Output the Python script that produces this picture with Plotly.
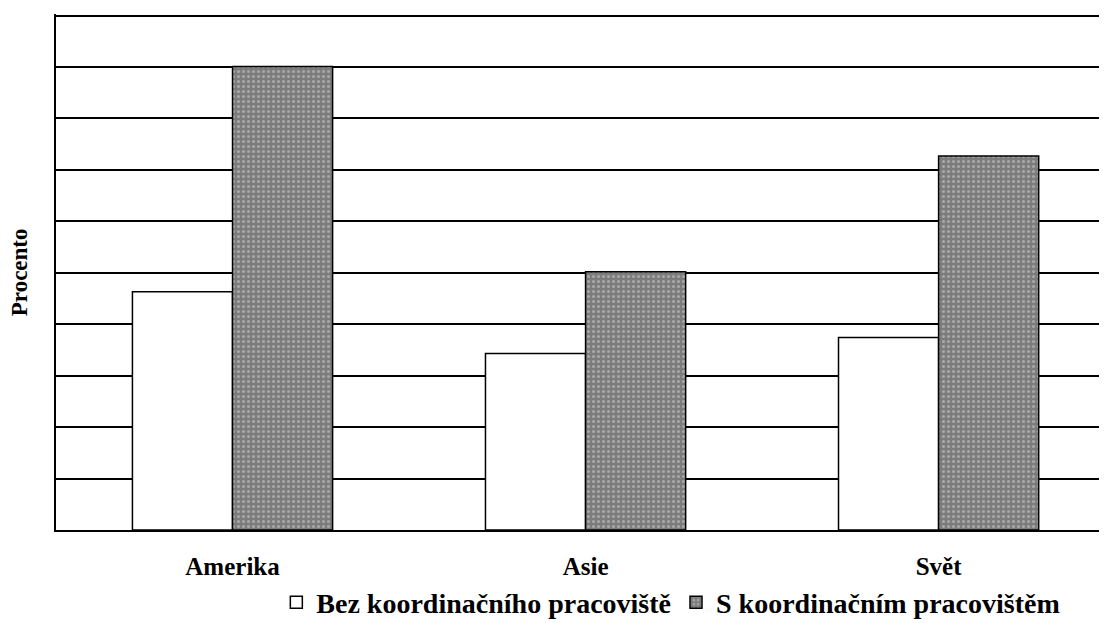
import plotly.graph_objects as go

categories = ["Amerika", "Asie", "Svět"]
bez_koord = [46.3, 34.3, 37.4]
s_koord = [90.1, 50.2, 72.7]
series_names = ["Bez koordinačního pracoviště", "S koordinačním pracovištěm"]

SERIF = "Liberation Serif, Times New Roman, DejaVu Serif, serif"

fig = go.Figure()
fig.add_trace(go.Bar(
    x=categories, y=bez_koord, name=series_names[0],
    marker=dict(color="#ffffff", line=dict(color="#000000", width=1.5)),
))
fig.add_trace(go.Bar(
    x=categories, y=s_koord, name=series_names[1],
    marker=dict(
        color="#808080",
        line=dict(color="#000000", width=1.5),
        pattern=dict(shape=".", size=5, solidity=0.3,
                     fgcolor="#a8a8a8", bgcolor="#7c7c7c", fillmode="replace"),
    ),
))

# page body has an 8px margin, so the figure is shrunk by 8px each way
fig.update_layout(
    width=1099, height=615,
    margin=dict(l=48, r=0, t=6, b=93, autoexpand=False),
    paper_bgcolor="#ffffff", plot_bgcolor="#ffffff",
    barmode="group", bargap=0.433, bargroupgap=0,
    font=dict(family=SERIF, size=24, color="#000000", weight="bold"),
    legend=dict(
        orientation="h", x=0.585, xanchor="center",
        yref="paper", y=-0.092, yanchor="top",
        font=dict(family=SERIF, size=28, color="#000000", weight="bold"),
        itemwidth=30, traceorder="normal",
    ),
    annotations=[dict(
        text="Procento", textangle=-90, showarrow=False,
        xref="paper", yref="paper", x=-0.035, y=0.5,
        xanchor="center", yanchor="middle",
        font=dict(family=SERIF, size=23, color="#000000", weight="bold"),
    )],
)
fig.update_xaxes(
    range=[-0.5, 2.477], showgrid=False, automargin=False,
    showline=True, linecolor="#000000", linewidth=2,
    ticks="", ticklabelstandoff=13,
    tickfont=dict(family=SERIF, size=25, color="#000000", weight="bold"),
)
fig.update_yaxes(
    range=[0, 100.3], tick0=0, dtick=10, showticklabels=False, automargin=False,
    showgrid=True, gridcolor="#000000", gridwidth=2,
    showline=True, linecolor="#000000", linewidth=2,
    zeroline=False, ticks="",
)

fig.write_html("out.html")
